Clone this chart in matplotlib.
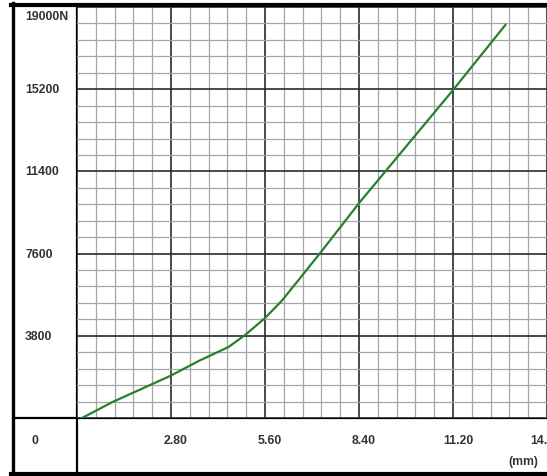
import numpy
import matplotlib
matplotlib.use("Agg")
import matplotlib.pyplot as plt
from matplotlib import transforms

# values
deflection_mm = [0.15, 1.06, 2.77, 3.63, 4.51, 5.01, 5.6, 6.1, 6.6, 7.26, 8.43, 9.17, 11.2, 12.76]
force_n = [0, 740, 1940, 2640, 3280, 3840, 4620, 5420, 6380, 7660, 9990, 11370, 15160, 18170]

x_ticks = [2.8, 5.6, 8.4, 11.2, 14.0]
x_labels = ["2.80", "5.60", "8.40", "11.20", "14.00"]
y_ticks = [3800, 7600, 11400, 15200, 19000]
y_labels = ["3800", "7600", "11400", "15200", "19000N"]

W, H = 547, 477
plt.rcParams['font.family'] = ['Liberation Sans', 'DejaVu Sans']

fig = plt.figure(figsize=(W / 100, H / 100), dpi=100)

# background axes in pixel units for the outer frame
bg = fig.add_axes([0, 0, 1, 1])
bg.set_xlim(0, W)
bg.set_ylim(H, 0)
bg.axis('off')

# plot area: x 77..547 px, y 8..419 px
left, right, top, bottom = 77, 547, 8, 419
ax = fig.add_axes([left / W, (H - bottom) / H, (right - left) / W, (bottom - top) / H])
ax.set_xlim(0, (right - left) / 33.93)
ax.set_ylim(0, 19000)

ax.set_xticks(numpy.arange(0, 14.01, 2.8))
ax.set_xticks(numpy.arange(0, 14.01, 0.56), minor=True)
ax.set_yticks(numpy.arange(0, 19001, 3800))
ax.set_yticks(numpy.arange(0, 19001, 760), minor=True)
ax.grid(which='minor', color='#a6a6a6', linewidth=0.9)
ax.grid(which='major', color='#2a2a2a', linewidth=1.2)
ax.set_axisbelow(True)
ax.tick_params(which='both', length=0, labelbottom=False, labelleft=False)
for s in ax.spines.values():
    s.set_visible(False)

ax.plot(deflection_mm, force_n, color='#27802f', linewidth=1.6)

# frame and dividers
bg.plot([13, 13], [4, H], color='black', linewidth=2.4)
bg.plot([11, W], [6, 6], color='black', linewidth=3.0)
bg.plot([11, W], [475, 475], color='black', linewidth=3.0)
bg.plot([13, W], [419, 419], color='black', linewidth=1.6)
bg.plot([77, 77], [6, H], color='black', linewidth=1.6)

txt = dict(fontsize=8.8, fontweight='bold', color='#333333')

# force labels in the left column
trans = transforms.blended_transform_factory(fig.transFigure, ax.transData)
for val, lab in zip(y_ticks, y_labels):
    if val == 19000:
        ax.text(25 / W, 1 - 17 / H, lab, transform=fig.transFigure, ha='left', va='center', **txt)
    else:
        ax.text(25 / W, val, lab, transform=trans, ha='left', va='center', **txt)

# deflection labels in the bottom row
trans_x = transforms.blended_transform_factory(ax.transData, fig.transFigure)
for val, lab in zip(x_ticks, x_labels):
    if val == 14.0:
        bg.text(530, 441, lab, ha='left', va='center', **txt)
    else:
        ax.text(val + 0.15, 1 - 441 / H, lab, transform=trans_x, ha='center', va='center',
                clip_on=False, **txt)

bg.text(35, 441, "0", ha='center', va='center', **txt)
bg.text(523, 462, "(mm)", ha='center', va='center', **txt)

fig.savefig('out.png', dpi=100)
